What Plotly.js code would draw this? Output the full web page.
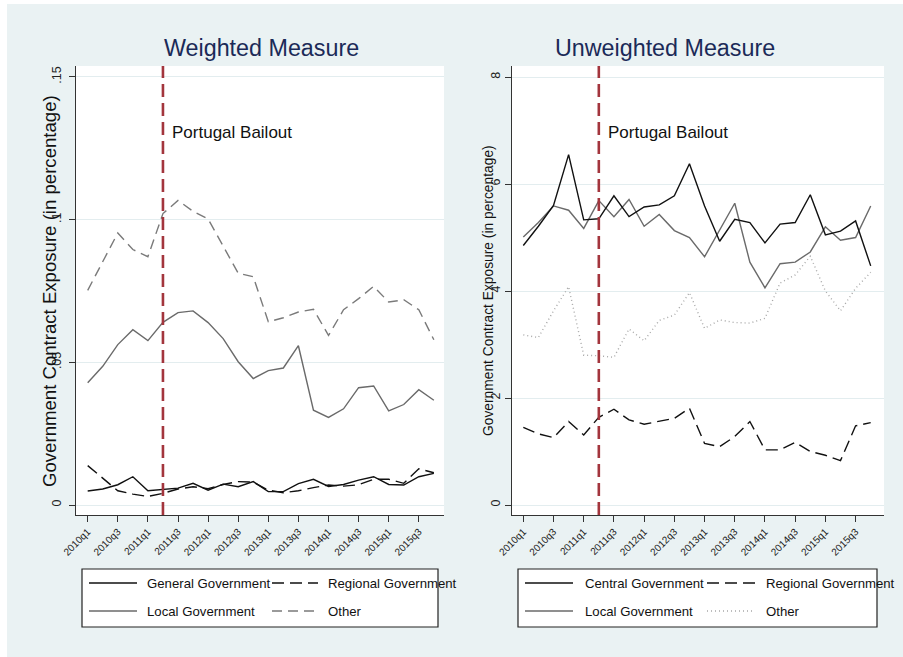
<!DOCTYPE html>
<html>
<head>
<meta charset="utf-8">
<script src="https://cdn.plot.ly/plotly-3.0.1.min.js"></script>
<style>
html,body{margin:0;padding:0;background:#ffffff;}
#chart{width:903px;height:657px;}
</style>
</head>
<body>
<div id="chart"></div>
<script>
// ---------------- DATA ----------------
const quarters = ['2010q1','2010q2','2010q3','2010q4','2011q1','2011q2','2011q3','2011q4',
  '2012q1','2012q2','2012q3','2012q4','2013q1','2013q2','2013q3','2013q4',
  '2014q1','2014q2','2014q3','2014q4','2015q1','2015q2','2015q3','2015q4'];
const tickLabels = ['2010q1','2010q3','2011q1','2011q3','2012q1','2012q3','2013q1','2013q3','2014q1','2014q3','2015q1','2015q3'];
const bailoutQuarter = '2011q2';

// Weighted measure
const wGeneral  = [0.0049,0.0056,0.0071,0.0099,0.0050,0.0055,0.0059,0.0076,0.0052,0.0073,0.0064,0.0082,
                   0.0047,0.0047,0.0075,0.0090,0.0065,0.0072,0.0087,0.0099,0.0072,0.0070,0.0099,0.0111];
const wRegional = [0.0138,0.0093,0.0050,0.0038,0.0030,0.0041,0.0056,0.0064,0.0057,0.0072,0.0082,0.0080,
                   0.0052,0.0043,0.0050,0.0061,0.0070,0.0066,0.0071,0.0090,0.0090,0.0076,0.0127,0.0113];
const wLocal    = [0.0428,0.0486,0.0562,0.0614,0.0576,0.0640,0.0674,0.0680,0.0639,0.0583,0.0502,0.0443,
                   0.0471,0.0480,0.0558,0.0332,0.0307,0.0337,0.0411,0.0417,0.0330,0.0352,0.0404,0.0367];
const wOther    = [0.0752,0.0855,0.0953,0.0895,0.0870,0.1021,0.1067,0.1029,0.1002,0.0907,0.0812,0.0800,
                   0.0642,0.0656,0.0676,0.0686,0.0594,0.0684,0.0723,0.0766,0.0711,0.0719,0.0684,0.0579];

// Unweighted measure
const uCentral  = [4.85,5.21,5.60,6.55,5.33,5.35,5.78,5.39,5.57,5.61,5.78,6.38,
                   5.59,4.93,5.34,5.28,4.90,5.25,5.28,5.80,5.05,5.12,5.31,4.47];
const uRegional = [1.45,1.33,1.26,1.56,1.31,1.64,1.79,1.59,1.51,1.56,1.62,1.81,
                   1.15,1.09,1.28,1.56,1.03,1.03,1.17,1.00,0.93,0.83,1.48,1.54];
const uLocal    = [5.01,5.28,5.59,5.51,5.17,5.69,5.39,5.71,5.21,5.43,5.13,5.00,
                   4.64,5.13,5.64,4.54,4.06,4.51,4.54,4.73,5.20,4.95,5.00,5.59];
const uOther    = [3.18,3.13,3.63,4.08,2.80,2.79,2.76,3.29,3.07,3.45,3.55,3.97,
                   3.30,3.46,3.41,3.40,3.49,4.15,4.30,4.65,4.00,3.63,4.05,4.35];

const wTicks = [0, 0.05, 0.1, 0.15];
const wTickText = ['0', '.05', '.1', '.15'];
const uTicks = [0, 2, 4, 6, 8];
const uTickText = ['0', '2', '4', '6', '8'];

// ---------------- BUILD ----------------
const W = 903, H = 657;
const px = v => v / W;
const py = v => 1 - v / H;

const xIdx = quarters.map((q, i) => i);
const tickIdx = tickLabels.map(t => quarters.indexOf(t));
const bailIdx = quarters.indexOf(bailoutQuarter);

const FONT = 'Liberation Sans, Arial, sans-serif';
const BLACK = '#111111', GRAY = '#6a6a6a', GRAY2 = '#7a7a7a', LIGHT = '#a8a8a8';
const DASH_K = '12px,6px', DASH_G = '10px,6px', DOT = '1px,3px';

function tr(y, name, color, dash, xa, ya) {
  return {x: xIdx, y: y, name: name, type: 'scatter', mode: 'lines',
    line: {color: color, width: 1.4, dash: dash}, xaxis: xa, yaxis: ya,
    showlegend: false, hoverinfo: 'skip'};
}

const data = [
  tr(wOther, 'Other', GRAY2, DASH_G, 'x', 'y'),
  tr(wLocal, 'Local Government', GRAY, 'solid', 'x', 'y'),
  tr(wRegional, 'Regional Government', BLACK, DASH_K, 'x', 'y'),
  tr(wGeneral, 'General Government', BLACK, 'solid', 'x', 'y'),
  tr(uOther, 'Other', LIGHT, DOT, 'x2', 'y2'),
  tr(uLocal, 'Local Government', GRAY, 'solid', 'x2', 'y2'),
  tr(uRegional, 'Regional Government', BLACK, DASH_K, 'x2', 'y2'),
  tr(uCentral, 'Central Government', BLACK, 'solid', 'x2', 'y2')
];

const yDom = [1 - 515 / H, 1 - 66 / H];

const xBase = {
  tickmode: 'array', tickvals: tickIdx, ticktext: tickLabels, tickangle: -45,
  ticks: 'outside', ticklen: 6, tickwidth: 1, tickcolor: '#333',
  showline: true, linecolor: '#333', linewidth: 1, showgrid: false, zeroline: false,
  tickfont: {family: FONT, size: 10, color: '#222'}, fixedrange: true
};
const yBase = {
  tickmode: 'array', tickangle: -90,
  ticks: 'outside', ticklen: 6, tickwidth: 1, tickcolor: '#333',
  showline: true, linecolor: '#333', linewidth: 1,
  showgrid: true, gridcolor: '#e3edef', gridwidth: 1, zeroline: false,
  tickfont: {family: FONT, size: 12.5, color: '#222'}, fixedrange: true
};

const layout = {
  width: W, height: H,
  margin: {l: 0, r: 0, t: 0, b: 0, pad: 0},
  paper_bgcolor: '#EAF2F3', plot_bgcolor: '#ffffff',
  showlegend: false,
  font: {family: FONT, color: '#111'},
  xaxis: Object.assign({}, xBase, {domain: [px(76), px(444)], range: [-0.777, 23.674], anchor: 'y'}),
  yaxis: Object.assign({}, yBase, {domain: yDom, range: [-0.0035, 0.1538], tickvals: wTicks, ticktext: wTickText, anchor: 'x', ticklabelstandoff: 3}),
  xaxis2: Object.assign({}, xBase, {domain: [px(512), px(884)], range: [-0.748, 23.88], anchor: 'y2'}),
  yaxis2: Object.assign({}, yBase, {domain: yDom, range: [-0.187, 8.206], tickvals: uTicks, ticktext: uTickText, anchor: 'x2'}),
  shapes: [],
  annotations: []
};

// white page edges
layout.shapes.push({type: 'rect', xref: 'paper', yref: 'paper', x0: 0, x1: 1, y0: py(4), y1: 1, fillcolor: '#ffffff', line: {width: 0}, layer: 'below'});
layout.shapes.push({type: 'rect', xref: 'paper', yref: 'paper', x0: 0, x1: px(7), y0: 0, y1: 1, fillcolor: '#ffffff', line: {width: 0}, layer: 'below'});

// bailout lines
[['x', 'y'], ['x2', 'y2']].forEach(([xa, ya]) => {
  layout.shapes.push({type: 'line', xref: xa, yref: ya + ' domain', x0: bailIdx, x1: bailIdx, y0: 0, y1: 1,
    line: {color: '#a3353d', width: 2.6, dash: '13px,6px'}});
  layout.annotations.push({xref: xa, yref: 'paper', x: bailIdx, y: py(132), xanchor: 'left', yanchor: 'middle',
    xshift: 7, text: 'Portugal Bailout', showarrow: false, font: {family: FONT, size: 17, color: '#111'}});
});

// titles
layout.annotations.push({xref: 'paper', yref: 'paper', x: px(261), y: py(48), xanchor: 'center', yanchor: 'middle',
  text: 'Weighted Measure', showarrow: false, font: {family: FONT, size: 23.3, color: '#1b2a58'}});
layout.annotations.push({xref: 'paper', yref: 'paper', x: px(665), y: py(48), xanchor: 'center', yanchor: 'middle',
  text: 'Unweighted Measure', showarrow: false, font: {family: FONT, size: 23.3, color: '#1b2a58'}});

// y-axis titles
layout.annotations.push({xref: 'paper', yref: 'paper', x: px(50), y: py(291), xanchor: 'center', yanchor: 'middle',
  textangle: -90, text: 'Government Contract Exposure (in percentage)', showarrow: false,
  font: {family: FONT, size: 18.6, color: '#111'}});
layout.annotations.push({xref: 'paper', yref: 'paper', x: px(489), y: py(291), xanchor: 'center', yanchor: 'middle',
  textangle: -90, text: 'Government Contract Exposure (in percentage)', showarrow: false,
  font: {family: FONT, size: 13.8, color: '#111'}});

// legends (drawn as boxes with sample lines and labels)
function legendBox(x0, x1, entries) {
  layout.shapes.push({type: 'rect', xref: 'paper', yref: 'paper', x0: px(x0), x1: px(x1), y0: py(627), y1: py(569),
    fillcolor: '#ffffff', line: {color: '#222', width: 1.2}});
  entries.forEach(e => {
    layout.shapes.push({type: 'line', xref: 'paper', yref: 'paper', x0: px(e.s0), x1: px(e.s1), y0: py(e.y), y1: py(e.y),
      line: {color: e.color, width: 1.6, dash: e.dash}});
    layout.annotations.push({xref: 'paper', yref: 'paper', x: px(e.t), y: py(e.y), xanchor: 'left', yanchor: 'middle',
      text: e.label, showarrow: false, font: {family: FONT, size: 13.2, color: '#111'}});
  });
}
legendBox(82, 438, [
  {s0: 89, s1: 137, t: 145, y: 583, color: BLACK, dash: 'solid', label: 'General Government'},
  {s0: 272, s1: 318, t: 326, y: 583, color: BLACK, dash: DASH_K, label: 'Regional Government'},
  {s0: 89, s1: 137, t: 145, y: 611, color: GRAY, dash: 'solid', label: 'Local Government'},
  {s0: 272, s1: 318, t: 326, y: 611, color: GRAY2, dash: DASH_G, label: 'Other'}
]);
legendBox(518, 877, [
  {s0: 525, s1: 573, t: 583, y: 583, color: BLACK, dash: 'solid', label: 'Central Government'},
  {s0: 707, s1: 755, t: 764, y: 583, color: BLACK, dash: DASH_K, label: 'Regional Government'},
  {s0: 525, s1: 573, t: 583, y: 611, color: GRAY, dash: 'solid', label: 'Local Government'},
  {s0: 707, s1: 755, t: 764, y: 611, color: LIGHT, dash: DOT, label: 'Other'}
]);

Plotly.newPlot('chart', data, layout, {displayModeBar: false, staticPlot: true});
</script>
</body>
</html>
